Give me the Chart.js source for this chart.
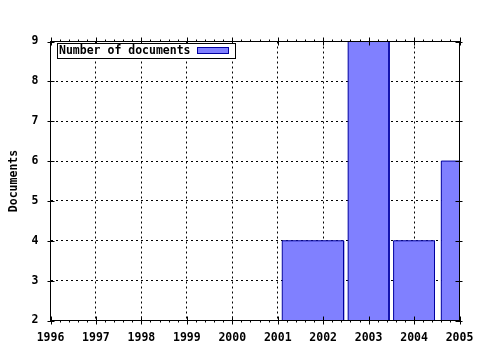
<!DOCTYPE html>
<html>
<head>
<meta charset="utf-8">
<script src="https://cdn.jsdelivr.net/npm/chart.js@4/dist/chart.umd.min.js"></script>
<style>
  html, body { margin: 0; padding: 0; background: #fff; }
  canvas { display: block; }
</style>
</head>
<body>
<canvas id="chart" width="480" height="350"></canvas>
<script>
// Values
const years = [1996, 1997, 1998, 1999, 2000, 2001, 2002, 2003, 2004, 2005];
const docTicks = [2, 3, 4, 5, 6, 7, 8, 9];
const barStart = [2001.1, 2002.55, 2003.55, 2004.6];
const barEnd = [2002.45, 2003.45, 2004.45, 2005.5];
const documents = [4, 9, 4, 6];
const seriesLabel = 'Number of documents';

const FONT = { family: '"DejaVu Sans Mono", "Liberation Mono", monospace', size: 11.5, weight: 'bold' };

// each bar is a closed outline on the x/y scales
const outline = [];
barStart.forEach((s, i) => {
    outline.push({ x: s, y: 0 }, { x: s, y: documents[i] }, { x: barEnd[i], y: documents[i] }, { x: barEnd[i], y: 0 });
});

// frame, tick marks and the boxed legend, gnuplot style
const framePlugin = {
    id: 'frame',
    afterDraw(chart) {
        const { ctx, chartArea: a, scales } = chart;
        const x = scales.x, y = scales.y;
        ctx.save();
        ctx.strokeStyle = '#000';
        ctx.lineWidth = 1;
        ctx.beginPath();
        // minor ticks on x, every fifth of a year, outward
        for (let i = 0; i <= (years.length - 1) * 5; i++) {
            const px = Math.round(x.getPixelForValue(years[0] + i / 5)) + 0.5;
            const len = i % 5 === 0 ? 4 : 2;
            ctx.moveTo(px, a.bottom - (i % 5 === 0 ? 4 : 0)); ctx.lineTo(px, a.bottom + len);
            ctx.moveTo(px, a.top + (i % 5 === 0 ? 4 : 0)); ctx.lineTo(px, a.top - len);
        }
        docTicks.forEach(v => {
            const py = Math.round(y.getPixelForValue(v)) + 0.5;
            ctx.moveTo(a.left - 3, py); ctx.lineTo(a.left + 4, py);
            ctx.moveTo(a.right + 3, py); ctx.lineTo(a.right - 4, py);
        });
        ctx.stroke();
        ctx.strokeRect(a.left, a.top, a.right - a.left, a.bottom - a.top);

        // legend box
        const ds = chart.data.datasets[0];
        ctx.fillStyle = '#fff';
        ctx.fillRect(57.5, 43.5, 178, 15);
        ctx.strokeRect(57.5, 43.5, 178, 15);
        ctx.font = `${FONT.weight} ${FONT.size}px ${FONT.family}`;
        ctx.fillStyle = '#000';
        ctx.textBaseline = 'middle';
        ctx.fillText(ds.label, 59, 51.5);
        ctx.fillStyle = ds.backgroundColor;
        ctx.fillRect(197.5, 47.5, 31, 6);
        ctx.strokeStyle = ds.borderColor;
        ctx.strokeRect(197.5, 47.5, 31, 6);
        ctx.restore();
    }
};

const ctx = document.getElementById('chart').getContext('2d');
const myChart = new Chart(ctx, {
    type: 'line',
    data: {
        datasets: [{
            label: seriesLabel,
            data: outline,
            backgroundColor: 'rgb(128, 128, 255)',
            borderColor: '#0000a0',
            borderWidth: 1,
            fill: 'origin',
            tension: 0,
            pointRadius: 0,
            clip: 0
        }]
    },
    options: {
        responsive: false,
        animation: false,
        devicePixelRatio: 1,
        layout: { padding: { top: 41.5, right: 20.5, left: 0, bottom: 0 } },
        plugins: { legend: { display: false }, tooltip: { enabled: false } },
        scales: {
            x: {
                type: 'linear',
                min: years[0],
                max: years[years.length - 1],
                afterBuildTicks: s => { s.ticks = years.map(v => ({ value: v })); },
                afterFit: s => { s.height = 29.5; s.paddingLeft = 0; s.paddingRight = 0; },
                grid: { color: '#000', lineWidth: 1, drawTicks: false },
                border: { display: false, dash: [2, 3] },
                ticks: { color: '#000', font: FONT, padding: 11, maxRotation: 0, callback: v => String(v) },
            },
            y: {
                type: 'linear',
                min: docTicks[0],
                max: docTicks[docTicks.length - 1],
                afterBuildTicks: s => { s.ticks = docTicks.map(v => ({ value: v })); },
                afterFit: s => { s.width = 50.5; s.paddingTop = 0; s.paddingBottom = 0; },
                grid: { color: '#000', lineWidth: 1, drawTicks: false },
                border: { display: false, dash: [2, 3] },
                ticks: { color: '#000', font: FONT, padding: 12, callback: v => String(v) },
                title: { display: true, text: 'Documents', color: '#000', font: FONT, padding: { top: 7, bottom: 0 } }
            }
        }
    },
    plugins: [framePlugin]
});
</script>
</body>
</html>
